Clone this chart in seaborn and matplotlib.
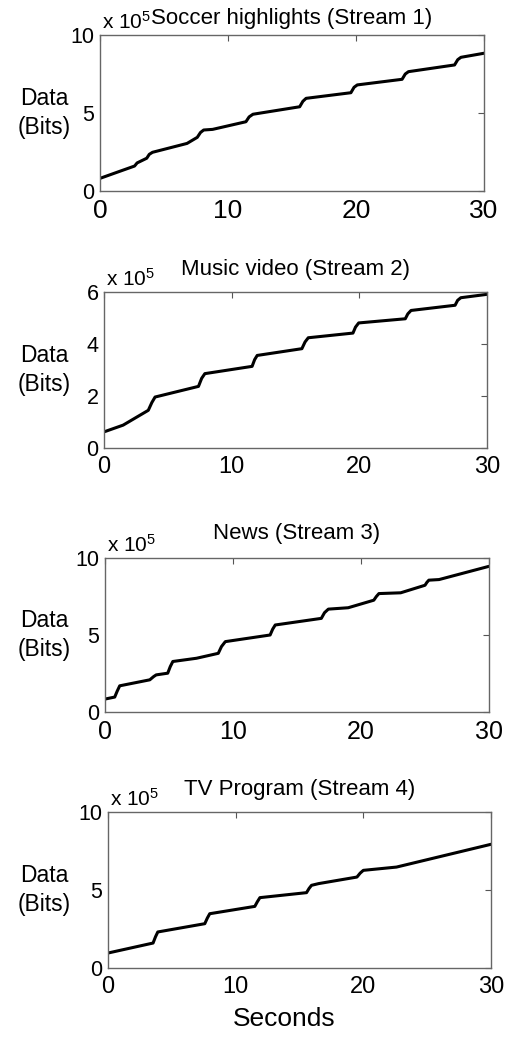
import numpy as np
import pandas as pd
import matplotlib
matplotlib.use("Agg")
import matplotlib.pyplot as plt
import seaborn as sns

# ---- data (values in units of 1e5 bits) ----
soccer_t = [0, 1.5, 2.7, 2.9, 3.1, 3.65, 3.85, 4.1, 6.8, 7.6, 7.85, 8.1, 8.8, 11.4, 11.65, 11.95,
            15.6, 15.85, 16.1, 19.6, 19.85, 20.1, 23.6, 23.85, 24.1, 27.7, 27.95, 28.2, 30]
soccer_v = [0.81, 1.25, 1.6, 1.8, 1.88, 2.1, 2.35, 2.48, 3.05, 3.44, 3.75, 3.91, 3.95, 4.44, 4.75, 4.92,
            5.4, 5.75, 5.94, 6.3, 6.65, 6.8, 7.16, 7.5, 7.65, 8.08, 8.42, 8.57, 8.83]

music_t = [0, 1.5, 3.47, 3.75, 4.0, 7.4, 7.65, 7.9, 11.6, 11.8, 12.0, 15.5, 15.75, 16.0,
           19.5, 19.7, 19.95, 23.6, 23.8, 24.05, 27.5, 27.7, 27.95, 30]
music_v = [0.62, 0.88, 1.45, 1.75, 1.96, 2.37, 2.68, 2.86, 3.14, 3.4, 3.56, 3.82, 4.08, 4.24,
           4.42, 4.65, 4.81, 4.97, 5.16, 5.29, 5.49, 5.68, 5.78, 5.91]

news_t = [0, 0.76, 0.95, 1.15, 3.5, 3.8, 4.0, 4.9, 5.1, 5.3, 7.15, 8.85, 9.1, 9.4, 12.9, 13.1, 13.3,
          16.9, 17.15, 17.45, 19.0, 21.0, 21.2, 21.4, 23.1, 25.0, 25.15, 25.3, 26.1, 30]
news_v = [0.84, 0.97, 1.35, 1.7, 2.09, 2.3, 2.41, 2.52, 2.95, 3.28, 3.49, 3.81, 4.25, 4.57, 5.0, 5.38, 5.65,
          6.08, 6.45, 6.68, 6.77, 7.26, 7.5, 7.69, 7.74, 8.23, 8.42, 8.56, 8.6, 9.46]

tv_t = [0, 3.53, 3.72, 3.9, 7.58, 7.78, 7.97, 11.5, 11.7, 11.9, 15.55, 15.75, 15.94, 16.5,
        19.5, 19.75, 20.0, 22.6, 30]
tv_v = [0.96, 1.6, 2.0, 2.31, 2.84, 3.2, 3.48, 3.95, 4.25, 4.51, 4.83, 5.1, 5.3, 5.41,
        5.83, 6.08, 6.26, 6.47, 7.93]

titles = ["Soccer highlights (Stream 1)", "Music video (Stream 2)",
          "News (Stream 3)", "TV Program (Stream 4)"]
ymaxes = [10, 6, 10, 10]
yticks_list = [[0, 5, 10], [0, 2, 4, 6], [0, 5, 10], [0, 5, 10]]
xticks = [0, 10, 20, 30]
ylabel_text = "Data\n(Bits)"
xlabel_text = "Seconds"
offset_text = r"x 10$^5$"

series = [(soccer_t, soccer_v), (music_t, music_v), (news_t, news_v), (tv_t, tv_v)]

# ---- style ----
sns.set_style("white")
plt.rcParams["font.family"] = ["Liberation Sans", "DejaVu Sans"]
plt.rcParams["mathtext.fontset"] = "custom"
plt.rcParams["mathtext.rm"] = "Liberation Sans"
plt.rcParams["mathtext.it"] = "Liberation Sans:italic"
plt.rcParams["text.color"] = "black"
plt.rcParams["axes.labelcolor"] = "black"
plt.rcParams["xtick.labelcolor"] = "black"
plt.rcParams["ytick.labelcolor"] = "black"

W, H = 510, 1037
fig = plt.figure(figsize=(W / 100, H / 100), dpi=100)
fig.patch.set_facecolor("white")

# axes boxes in pixels: left, right, top, bottom
boxes = [(100, 484, 35, 191), (104, 487, 292, 448), (105, 489, 558, 712), (108, 491, 812, 968)]
xtick_sizes = [19, 17, 18, 17]
title_pads = [8, 12, 14, 12]

for i, ((l, r, t, b), (xs, ys)) in enumerate(zip(boxes, series)):
    ax = fig.add_axes([l / W, 1 - b / H, (r - l) / W, (b - t) / H])
    df = pd.DataFrame({"t": xs, "v": ys})
    sns.lineplot(data=df, x="t", y="v", ax=ax, color="black", linewidth=2.2)
    ax.set_xlim(0, 30)
    ax.set_ylim(0, ymaxes[i])
    ax.set_xticks(xticks)
    ax.set_yticks(yticks_list[i])
    ax.set_xticklabels([str(x) for x in xticks], fontsize=xtick_sizes[i])
    ax.set_yticklabels([str(y) for y in yticks_list[i]], fontsize=15.5)
    ax.tick_params(direction="in", length=4, width=0.8, color="#555555",
                   labelcolor="black", top=True, right=True)
    ax.tick_params(axis="y", pad=4)
    ax.tick_params(axis="x", pad=6)
    for s in ax.spines.values():
        s.set_color("#666666")
        s.set_linewidth(1.0)
    ax.set_xlabel("")
    ax.set_ylabel(ylabel_text, rotation=0, fontsize=16.5, ha="center", va="center",
                  linespacing=1.3, color="black")
    ax.yaxis.set_label_coords((44 - l) / (r - l), 0.5)
    ax.set_title(titles[i], fontsize=16, pad=title_pads[i], color="black")
    ax.text(0.005, 1.015, offset_text, transform=ax.transAxes, ha="left", va="bottom",
            fontsize=15, color="black")
    if i == 3:
        ax.set_xlabel(xlabel_text, fontsize=19, color="black")
        ax.xaxis.set_label_coords((284 - l) / (r - l), (b - 1019) / (b - t))
        ax.xaxis.label.set_va("center")

fig.savefig("out.png", dpi=100, facecolor="white")
